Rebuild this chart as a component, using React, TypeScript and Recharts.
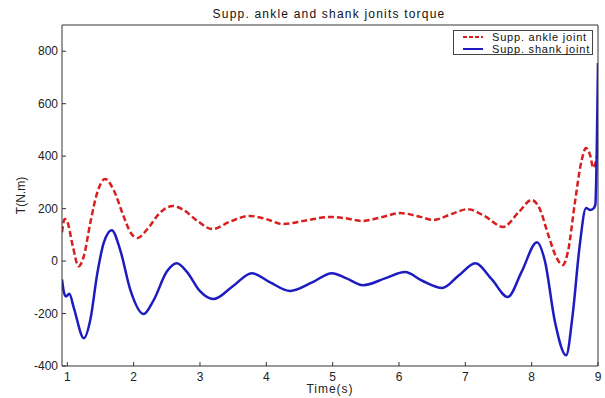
import React from 'react';
import { LineChart, Line, XAxis, YAxis, Legend } from 'recharts';

// supp. ankle joint torque (time s, torque N.m)
const ankleTime = [
  0.92, 0.96, 1.0, 1.08, 1.17, 1.25, 1.35, 1.45, 1.57, 1.7, 1.85, 1.95, 2.06, 2.2, 2.4, 2.59, 2.75,
  2.95, 3.19, 3.45, 3.75, 4.0, 4.25, 4.6, 4.96, 5.2, 5.44, 5.75, 6.02, 6.3, 6.52, 6.8, 7.04, 7.3,
  7.57, 7.8, 8.0, 8.12, 8.25, 8.38, 8.47, 8.55, 8.65, 8.75, 8.82, 8.88, 8.93, 8.97, 9.0,
];
const ankleTorque = [
  110, 160, 150, 60, -20, 20, 150, 260, 313, 270, 170, 110, 88, 120, 185, 210, 195,
  155, 122, 150, 172, 160, 141, 155, 168, 163, 153, 168, 183, 170, 157, 180, 198, 170,
  130, 185, 233, 200, 100, 10, -15, 40, 220, 380, 431, 405, 355, 380, 420,
];

// supp. shank joint torque
const shankTime = [
  0.92, 0.95, 0.98, 1.03, 1.1, 1.25, 1.35, 1.45, 1.55, 1.67, 1.8, 1.95, 2.15, 2.3, 2.5, 2.65, 2.8,
  3.0, 3.2, 3.5, 3.78, 4.05, 4.36, 4.7, 4.99, 5.2, 5.46, 5.8, 6.09, 6.35, 6.65, 6.9, 7.15, 7.4,
  7.64, 7.85, 8.08, 8.2, 8.35, 8.52, 8.62, 8.72, 8.82, 8.88, 8.93, 8.96, 8.98, 9.0,
];
const shankTorque = [
  -70, -120, -135, -125, -180, -294, -220, -50, 70, 118, 40, -110, -202, -150, -40, -8, -40,
  -115, -145, -95, -46, -80, -114, -80, -46, -65, -92, -65, -42, -75, -103, -55, -8, -70,
  -137, -40, 72, 0, -230, -359, -200, 50, 202, 195, 200, 215, 400, 755,
];

const xTicks = [1, 2, 3, 4, 5, 6, 7, 8, 9];
const yTicks = [-400, -200, 0, 200, 400, 600, 800];

const ankleData = ankleTime.map((t, i) => ({ t, v: ankleTorque[i] }));
const shankData = shankTime.map((t, i) => ({ t, v: shankTorque[i] }));

const FONT = '"Liberation Sans", Arial, sans-serif';
const RED = '#d91e1e';
const BLUE = '#1c1cc0';
const AXIS = '#333';

const renderLegend = () => (
  <div
    style={{
      width: 140,
      height: 25,
      boxSizing: 'border-box',
      border: '1px solid #444',
      background: '#fff',
      fontFamily: FONT,
      fontSize: 11,
      letterSpacing: 0.8,
      color: '#111',
      lineHeight: '11px',
      padding: '0 0 0 9px',
    }}
  >
    <div style={{ display: 'flex', alignItems: 'center', height: 12 }}>
      <svg width={20} height={6} style={{ marginRight: 9 }}>
        <line x1={0} y1={3} x2={20} y2={3} stroke={RED} strokeWidth={2} strokeDasharray="4 2" />
      </svg>
      Supp. ankle joint
    </div>
    <div style={{ display: 'flex', alignItems: 'center', height: 12 }}>
      <svg width={20} height={6} style={{ marginRight: 9 }}>
        <line x1={0} y1={3} x2={20} y2={3} stroke={BLUE} strokeWidth={2} />
      </svg>
      Supp. shank joint
    </div>
  </div>
);

export default function App() {
  return (
    <div style={{ position: 'relative', width: 605, height: 398, background: '#fff' }}>
      <style>{'body{margin:0}'}</style>
      <div
        style={{
          position: 'absolute',
          left: 179,
          top: 7,
          width: 300,
          textAlign: 'center',
          fontFamily: FONT,
          fontSize: 12,
          letterSpacing: 1.2,
          color: '#111',
        }}
      >
        Supp. ankle and shank jonits torque
      </div>
      <LineChart width={605} height={398} margin={{ top: 24, right: 6, bottom: 0, left: 12 }}>
        <XAxis
          dataKey="t"
          type="number"
          domain={[0.92, 9]}
          ticks={xTicks}
          allowDataOverflow
          height={32}
          tickSize={-4}
          tickMargin={10}
          stroke={AXIS}
          tick={{ fill: '#222', fontSize: 12, fontFamily: FONT }}
          label={{
            value: 'Time(s)',
            position: 'insideBottom',
            offset: 5,
            style: { fill: '#222', fontSize: 12, letterSpacing: 1, fontFamily: FONT },
          }}
        />
        <XAxis
          xAxisId="top"
          orientation="top"
          dataKey="t"
          type="number"
          domain={[0.92, 9]}
          ticks={xTicks}
          allowDataOverflow
          height={1}
          tickSize={-4}
          tick={false}
          stroke={AXIS}
        />
        <YAxis
          type="number"
          domain={[-400, 900]}
          ticks={yTicks}
          allowDataOverflow
          width={50}
          tickSize={-4}
          tickMargin={8}
          stroke={AXIS}
          tick={{ fill: '#222', fontSize: 12, fontFamily: FONT }}
          label={{
            value: 'T(N.m)',
            angle: -90,
            position: 'insideLeft',
            offset: 9,
            style: { textAnchor: 'middle', fill: '#222', fontSize: 12, fontFamily: FONT },
          }}
        />
        <YAxis
          yAxisId="right"
          orientation="right"
          type="number"
          domain={[-400, 900]}
          ticks={yTicks}
          allowDataOverflow
          width={1}
          tickSize={-4}
          tick={false}
          stroke={AXIS}
        />
        <Legend
          layout="vertical"
          align="center"
          verticalAlign="middle"
          content={renderLegend}
          wrapperStyle={{ left: 453, top: 30, width: 140, height: 25 }}
        />
        <Line
          data={ankleData}
          dataKey="v"
          type="monotone"
          stroke={RED}
          strokeWidth={2.5}
          strokeDasharray="6 3"
          dot={false}
          isAnimationActive={false}
        />
        <Line
          data={shankData}
          dataKey="v"
          type="monotone"
          stroke={BLUE}
          strokeWidth={2.5}
          dot={false}
          isAnimationActive={false}
        />
      </LineChart>
    </div>
  );
}
